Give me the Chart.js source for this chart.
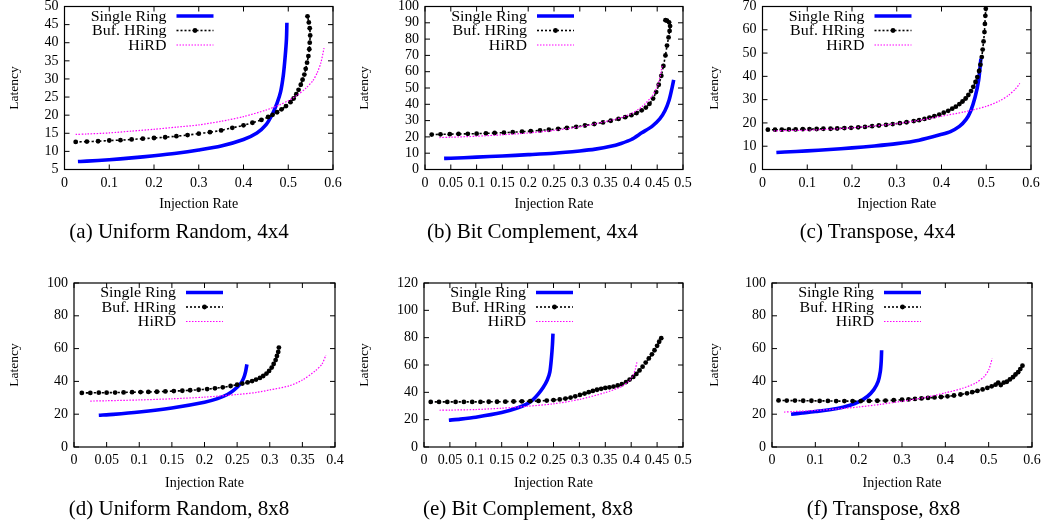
<!DOCTYPE html>
<html>
<head>
<meta charset="utf-8">
<title>Latency vs Injection Rate</title>
<script src="https://cdn.jsdelivr.net/npm/chart.js@4.4.1/dist/chart.umd.min.js"></script>
<style>
  html, body { margin: 0; padding: 0; background: #fff; }
  body { width: 1047px; height: 529px; position: relative; overflow: hidden; font-family: 'Liberation Serif', serif; }
  canvas { position: absolute; }
  .cap { position: absolute; font-size: 21px; line-height: 21px; white-space: nowrap; transform: translateX(-50%); color: #000; }
</style>
</head>
<body>
<script>
const seriesNames = ['Single Ring', 'Buf. HRing', 'HiRD'];

// (a) Uniform Random, 4x4
const ur4Single = [[0.03,7.2],[0.05,7.3],[0.1,7.7],[0.15,8.2],[0.2,8.8],[0.25,9.5],[0.3,10.4],[0.35,11.5],[0.4,13.3],[0.43,15.1],[0.45,17.3],[0.465,20.4],[0.475,23.3],[0.483,26.5],[0.489,31],[0.493,36],[0.496,41],[0.497,45.5]];
const ur4Buf = [[0.025,12.6],[0.05,12.7],[0.075,12.8],[0.1,13.0],[0.125,13.1],[0.15,13.3],[0.175,13.5],[0.2,13.7],[0.225,13.9],[0.25,14.2],[0.275,14.5],[0.3,14.9],[0.325,15.3],[0.35,15.8],[0.375,16.5],[0.4,17.2],[0.42,17.9],[0.44,18.7],[0.455,19.5],[0.465,20.1],[0.475,20.8],[0.485,21.6],[0.495,22.5],[0.505,23.6],[0.512,24.6],[0.518,25.8],[0.523,27],[0.528,28.4],[0.532,29.8],[0.536,31.2],[0.539,32.8],[0.542,34.5],[0.545,36.3],[0.547,38.2],[0.548,40],[0.549,42],[0.548,44],[0.546,45.6],[0.543,47.3]];
const ur4Hird = [[0.025,14.7],[0.05,14.8],[0.1,15.1],[0.15,15.6],[0.2,16.1],[0.25,16.7],[0.3,17.3],[0.35,18.3],[0.4,19.6],[0.45,21.4],[0.48,22.8],[0.5,24],[0.52,25.5],[0.54,27.5],[0.555,29.5],[0.565,31.8],[0.573,34.5],[0.58,38.5]];

// (b) Bit Complement, 4x4
const bc4Single = [[0.037,6.8],[0.05,6.9],[0.1,7.6],[0.15,8.3],[0.2,9.1],[0.25,10],[0.3,11.4],[0.33,12.5],[0.36,14.2],[0.38,16],[0.4,18.4],[0.42,22.5],[0.44,26.5],[0.455,31],[0.465,36],[0.473,42.5],[0.478,49],[0.482,55]];
const bc4Buf = [[0.013,21.4],[0.03,21.6],[0.048,21.7],[0.065,21.8],[0.083,21.9],[0.1,22.0],[0.118,22.2],[0.135,22.4],[0.153,22.6],[0.17,22.9],[0.188,23.2],[0.205,23.5],[0.223,24],[0.24,24.4],[0.258,24.9],[0.275,25.5],[0.293,26.2],[0.31,27],[0.328,27.9],[0.345,28.9],[0.36,29.9],[0.375,31],[0.388,32.1],[0.4,33.3],[0.41,34.6],[0.42,36.3],[0.428,38],[0.435,40.3],[0.442,43.5],[0.448,47.5],[0.453,52],[0.458,57.5],[0.462,63.5],[0.466,70],[0.469,76],[0.472,81],[0.474,85],[0.475,88],[0.473,90.3],[0.469,91.3],[0.466,91.6]];
const bc4Hird = [[0.028,19.6],[0.05,19.8],[0.1,20.4],[0.15,21.3],[0.2,22.4],[0.25,24],[0.3,26.2],[0.35,29.4],[0.38,31.8],[0.4,34.3],[0.42,38.4],[0.44,45],[0.45,51],[0.455,56],[0.46,64]];

// (c) Transpose, 4x4
const tp4Single = [[0.031,7.3],[0.05,7.5],[0.1,8.0],[0.15,8.6],[0.2,9.3],[0.25,10.1],[0.3,11.1],[0.35,12.6],[0.4,15.1],[0.42,16.3],[0.44,18.5],[0.455,21.5],[0.465,25],[0.475,31],[0.483,38.3],[0.488,47.6]];
const tp4Buf = [[0.012,17.1],[0.028,17.1],[0.043,17.1],[0.059,17.2],[0.074,17.2],[0.09,17.3],[0.105,17.3],[0.121,17.4],[0.136,17.5],[0.152,17.5],[0.167,17.6],[0.183,17.8],[0.198,17.9],[0.214,18.1],[0.229,18.3],[0.245,18.6],[0.26,18.9],[0.276,19.2],[0.291,19.5],[0.307,19.9],[0.322,20.3],[0.338,20.8],[0.35,21.2],[0.362,21.7],[0.373,22.3],[0.384,22.9],[0.395,23.6],[0.405,24.4],[0.415,25.2],[0.424,26.1],[0.432,27],[0.44,28.1],[0.447,29.2],[0.454,30.5],[0.46,32],[0.466,33.7],[0.471,35.5],[0.476,37.6],[0.48,39.7],[0.484,42.3],[0.487,45],[0.49,48.3],[0.492,51.5],[0.494,55],[0.496,59],[0.497,62.5],[0.498,66],[0.499,69]];
const tp4Hird = [[0.025,16.6],[0.05,16.7],[0.1,16.9],[0.15,17.3],[0.2,17.9],[0.25,18.7],[0.3,19.7],[0.35,21.1],[0.4,22.9],[0.45,24.7],[0.5,27.1],[0.53,29.5],[0.55,31.9],[0.565,34.5],[0.575,37]];

// (d) Uniform Random, 8x8
const ur8Single = [[0.038,19.4],[0.06,19.9],[0.1,21.3],[0.15,23.8],[0.2,27.3],[0.22,29.5],[0.235,32],[0.245,34.7],[0.255,38.5],[0.26,42],[0.263,46],[0.265,50.4]];
const ur8Buf = [[0.012,33],[0.025,33],[0.038,33.1],[0.05,33.1],[0.063,33.2],[0.076,33.3],[0.089,33.4],[0.102,33.5],[0.114,33.6],[0.127,33.7],[0.14,33.9],[0.153,34.1],[0.166,34.3],[0.178,34.6],[0.191,34.9],[0.204,35.3],[0.216,35.8],[0.228,36.4],[0.24,37.2],[0.25,38],[0.258,38.7],[0.266,39.4],[0.273,40.2],[0.279,41.1],[0.285,42.1],[0.29,43.3],[0.295,44.8],[0.299,46.4],[0.303,48.4],[0.306,50.6],[0.309,53],[0.311,55.5],[0.313,58],[0.314,60.6]];
const ur8Hird = [[0.025,28],[0.05,28.2],[0.1,28.7],[0.15,29.4],[0.2,30.4],[0.25,32],[0.28,33.3],[0.3,34.8],[0.33,37.3],[0.35,40.8],[0.37,46.5],[0.38,50.5],[0.386,56]];

// (e) Bit Complement, 8x8
const bc8Single = [[0.048,19.6],[0.07,20.4],[0.1,21.8],[0.15,25.2],[0.18,28.5],[0.2,31.8],[0.21,34.5],[0.22,38.5],[0.23,43.5],[0.238,49],[0.243,55],[0.246,65],[0.248,75],[0.249,83]];
const bc8Buf = [[0.013,33],[0.029,33],[0.045,33],[0.061,33],[0.077,33],[0.093,33],[0.109,33],[0.125,33.1],[0.141,33.1],[0.157,33.2],[0.173,33.3],[0.189,33.4],[0.205,33.5],[0.221,33.7],[0.237,34],[0.25,34.3],[0.262,34.8],[0.273,35.4],[0.283,36.2],[0.292,37.1],[0.301,38.1],[0.31,39.1],[0.318,40.1],[0.326,41],[0.334,41.9],[0.342,42.6],[0.35,43.2],[0.358,43.7],[0.366,44.2],[0.374,45],[0.382,46],[0.39,47.5],[0.397,49.3],[0.404,51.3],[0.41,53.5],[0.416,56],[0.422,58.8],[0.428,61.8],[0.434,64.8],[0.44,67.8],[0.445,70.8],[0.45,74],[0.454,77],[0.458,79.6]];
const bc8Hird = [[0.03,26.9],[0.05,27],[0.1,27.4],[0.15,28.4],[0.2,29.8],[0.25,31.6],[0.3,34.8],[0.35,39.8],[0.38,44],[0.395,48],[0.403,52],[0.408,57],[0.411,62]];

// (f) Transpose, 8x8
const tp8Single = [[0.044,20],[0.07,20.7],[0.1,21.6],[0.15,23.5],[0.18,25.5],[0.2,27.5],[0.22,30.8],[0.235,35],[0.245,40],[0.25,46],[0.252,52],[0.253,59]];
const tp8Buf = [[0.015,28.4],[0.034,28.3],[0.053,28.3],[0.072,28.2],[0.091,28.2],[0.11,28.1],[0.129,28.1],[0.148,28],[0.167,28],[0.186,28],[0.205,28],[0.224,28.1],[0.243,28.2],[0.262,28.3],[0.281,28.5],[0.3,28.8],[0.315,29],[0.33,29.3],[0.345,29.6],[0.36,29.9],[0.375,30.2],[0.39,30.5],[0.405,30.9],[0.42,31.4],[0.435,32],[0.45,32.7],[0.462,33.4],[0.474,34.2],[0.486,35.1],[0.497,36],[0.507,37],[0.516,38],[0.522,39.2],[0.528,37.8],[0.535,39.3],[0.542,39.8],[0.549,41.2],[0.556,42.6],[0.562,44.2],[0.568,45.6],[0.573,47.5],[0.578,49.6]];
const tp8Hird = [[0.028,21.3],[0.05,21.6],[0.1,22.3],[0.15,23.2],[0.2,24.4],[0.25,26],[0.3,27.9],[0.35,30],[0.4,33],[0.44,35.8],[0.47,39],[0.49,43],[0.5,47],[0.505,51],[0.508,54]];

// tick labels
const xTicks6 = [0, 0.1, 0.2, 0.3, 0.4, 0.5, 0.6];
const xTicks5 = [0, 0.05, 0.1, 0.15, 0.2, 0.25, 0.3, 0.35, 0.4, 0.45, 0.5];
const xTicks4 = [0, 0.05, 0.1, 0.15, 0.2, 0.25, 0.3, 0.35, 0.4];
const yTicksA = [5, 10, 15, 20, 25, 30, 35, 40, 45, 50];
const yTicksB = [0, 10, 20, 30, 40, 50, 60, 70, 80, 90, 100];
const yTicksC = [0, 10, 20, 30, 40, 50, 60, 70];
const yTicks100 = [0, 20, 40, 60, 80, 100];
const yTicks120 = [0, 20, 40, 60, 80, 100, 120];

const captions = ['(a) Uniform Random, 4x4', '(b) Bit Complement, 4x4', '(c) Transpose, 4x4',
                  '(d) Uniform Random, 8x8', '(e) Bit Complement, 8x8', '(f) Transpose, 8x8'];

// layout of each panel (page px): cell = canvas box, area = plot box
const panels = [
  { cell: [0, 0, 350, 220],    area: [64.5, 6.5, 333, 169.5], yTitleX: 14.5,  xTitleY: 204.5, capX: 179,   capTop: 220.5, data: [ur4Single, ur4Buf, ur4Hird], xt: xTicks6, yt: yTicksA },
  { cell: [350, 0, 697, 220],  area: [425, 6.5, 683, 169.5],  yTitleX: 364.5, xTitleY: 204.5, capX: 532.5, capTop: 220.5, data: [bc4Single, bc4Buf, bc4Hird], xt: xTicks5, yt: yTicksB },
  { cell: [697, 0, 1047, 220], area: [762.5, 6.5, 1031, 169.5], yTitleX: 714.5, xTitleY: 204.5, capX: 877.5, capTop: 220.5, data: [tp4Single, tp4Buf, tp4Hird], xt: xTicks6, yt: yTicksC },
  { cell: [0, 265, 350, 500],    area: [74, 283, 335, 447],   yTitleX: 14.5,  xTitleY: 483, capX: 179,   capTop: 498, data: [ur8Single, ur8Buf, ur8Hird], xt: xTicks4, yt: yTicks100 },
  { cell: [350, 265, 697, 500],  area: [424, 283, 683, 447],  yTitleX: 364,   xTitleY: 483, capX: 528,   capTop: 498, data: [bc8Single, bc8Buf, bc8Hird], xt: xTicks5, yt: yTicks120 },
  { cell: [697, 265, 1047, 500], area: [772, 283, 1032, 447], yTitleX: 714.5, xTitleY: 483, capX: 883.5, capTop: 498, data: [tp8Single, tp8Buf, tp8Hird], xt: xTicks6, yt: yTicks100 }
];

const FONT = 'Liberation Serif';
const tickFont = { family: FONT, size: 14 };
const yTitleFont = { family: FONT, size: 13.5, lineHeight: 1.2 };
const xTitleFont = { family: FONT, size: 14, lineHeight: 1.2 };

const styles = [
  { borderColor: 'rgb(0,0,255)', borderWidth: 3.6, borderDash: [], pointRadius: 0, order: 3 },
  { borderColor: '#000', borderWidth: 1.6, borderDash: [2, 2], pointRadius: 2.4, pointBackgroundColor: '#000', pointBorderWidth: 0, order: 2 },
  { borderColor: 'rgb(255,0,255)', borderWidth: 1.2, borderDash: [1.5, 1.5], pointRadius: 0, order: 1 }
];

const fmt = v => String(parseFloat(Number(v).toFixed(4)));

// border box + inward ticks on all four sides (gnuplot look)
const frame = {
  id: 'frame',
  afterDatasetsDraw(chart) {
    const { ctx, chartArea: a, scales } = chart;
    ctx.save();
    ctx.strokeStyle = '#000';
    ctx.lineWidth = 1.2;
    ctx.setLineDash([]);
    ctx.strokeRect(a.left, a.top, a.right - a.left, a.bottom - a.top);
    ctx.lineWidth = 1;
    ctx.beginPath();
    scales.x.ticks.forEach(t => {
      const px = scales.x.getPixelForValue(t.value);
      ctx.moveTo(px, a.bottom); ctx.lineTo(px, a.bottom - 5);
      ctx.moveTo(px, a.top); ctx.lineTo(px, a.top + 5);
    });
    scales.y.ticks.forEach(t => {
      const py = scales.y.getPixelForValue(t.value);
      ctx.moveTo(a.left, py); ctx.lineTo(a.left + 5, py);
      ctx.moveTo(a.right, py); ctx.lineTo(a.right - 5, py);
    });
    ctx.stroke();
    ctx.restore();
  }
};

// key in the top-left corner: text right-aligned, sample line to its right
const key = {
  id: 'key',
  afterDraw(chart) {
    const { ctx, chartArea: a } = chart;
    const rows = [9.5, 24, 38.5];
    ctx.save();
    chart.data.datasets.forEach((ds, i) => {
      const y = a.top + rows[i];
      ctx.save();
      ctx.translate(a.left + 102, y);
      ctx.scale(1.14, 1);
      ctx.font = '14px "' + FONT + '"';
      ctx.fillStyle = '#000';
      ctx.textAlign = 'right';
      ctx.textBaseline = 'middle';
      ctx.fillText(ds.label, 0, 1);
      ctx.restore();
      ctx.beginPath();
      ctx.strokeStyle = ds.borderColor;
      ctx.lineWidth = ds.borderWidth;
      ctx.setLineDash(ds.borderDash || []);
      ctx.moveTo(a.left + 112, y);
      ctx.lineTo(a.left + 149, y);
      ctx.stroke();
      if (ds.pointRadius > 0) {
        ctx.beginPath();
        ctx.fillStyle = ds.pointBackgroundColor;
        ctx.arc(a.left + 130.5, y, ds.pointRadius, 0, Math.PI * 2);
        ctx.fill();
      }
    });
    ctx.restore();
  }
};

panels.forEach((p, idx) => {
  const [cl, ct, cr, cb] = p.cell;
  const [al, at, ar, ab] = p.area;
  const canvas = document.createElement('canvas');
  canvas.width = cr - cl;
  canvas.height = cb - ct;
  canvas.style.left = cl + 'px';
  canvas.style.top = ct + 'px';
  canvas.style.width = (cr - cl) + 'px';
  canvas.style.height = (cb - ct) + 'px';
  document.body.appendChild(canvas);

  const cap = document.createElement('div');
  cap.className = 'cap';
  cap.textContent = captions[idx];
  cap.style.left = p.capX + 'px';
  cap.style.top = p.capTop + 'px';
  document.body.appendChild(cap);

  const yW = al - cl;
  const xH = cb - ab;
  const yTitlePad = p.yTitleX - cl - yTitleFont.size * yTitleFont.lineHeight / 2;
  const xTitlePad = cb - p.xTitleY - xTitleFont.size * xTitleFont.lineHeight / 2;

  new Chart(canvas.getContext('2d'), {
    type: 'scatter',
    data: {
      datasets: p.data.map((pts, i) => Object.assign({
        label: seriesNames[i],
        data: pts.map(([x, y]) => ({ x, y })),
        showLine: true,
        tension: 0.25,
        fill: false,
        borderCapStyle: 'butt',
        pointHoverRadius: 0
      }, styles[i]))
    },
    options: {
      responsive: false,
      animation: false,
      devicePixelRatio: 1,
      layout: { padding: { left: 0, top: at - ct, right: cr - ar, bottom: 0 } },
      plugins: { legend: { display: false }, tooltip: { enabled: false } },
      scales: {
        x: {
          type: 'linear',
          min: p.xt[0],
          max: p.xt[p.xt.length - 1],
          afterBuildTicks: s => { s.ticks = p.xt.map(v => ({ value: v })); },
          afterFit: s => { s.height = xH; s.paddingLeft = 0; s.paddingRight = 0; },
          grid: { display: false, drawTicks: false },
          border: { display: false },
          ticks: { color: '#000', font: tickFont, padding: 5, maxRotation: 0, minRotation: 0, autoSkip: false, callback: v => fmt(v) },
          title: { display: true, text: 'Injection Rate', color: '#000', font: xTitleFont, padding: { top: 0, bottom: xTitlePad } }
        },
        y: {
          type: 'linear',
          min: p.yt[0],
          max: p.yt[p.yt.length - 1],
          afterBuildTicks: s => { s.ticks = p.yt.map(v => ({ value: v })); },
          afterFit: s => { s.width = yW; s.paddingTop = 0; s.paddingBottom = 0; },
          grid: { display: false, drawTicks: false },
          border: { display: false },
          ticks: { color: '#000', font: tickFont, padding: 6, autoSkip: false, callback: v => fmt(v) },
          title: { display: true, text: 'Latency', color: '#000', font: yTitleFont, padding: { top: yTitlePad, bottom: 0 } }
        }
      }
    },
    plugins: [frame, key]
  });
});
</script>
</body>
</html>
